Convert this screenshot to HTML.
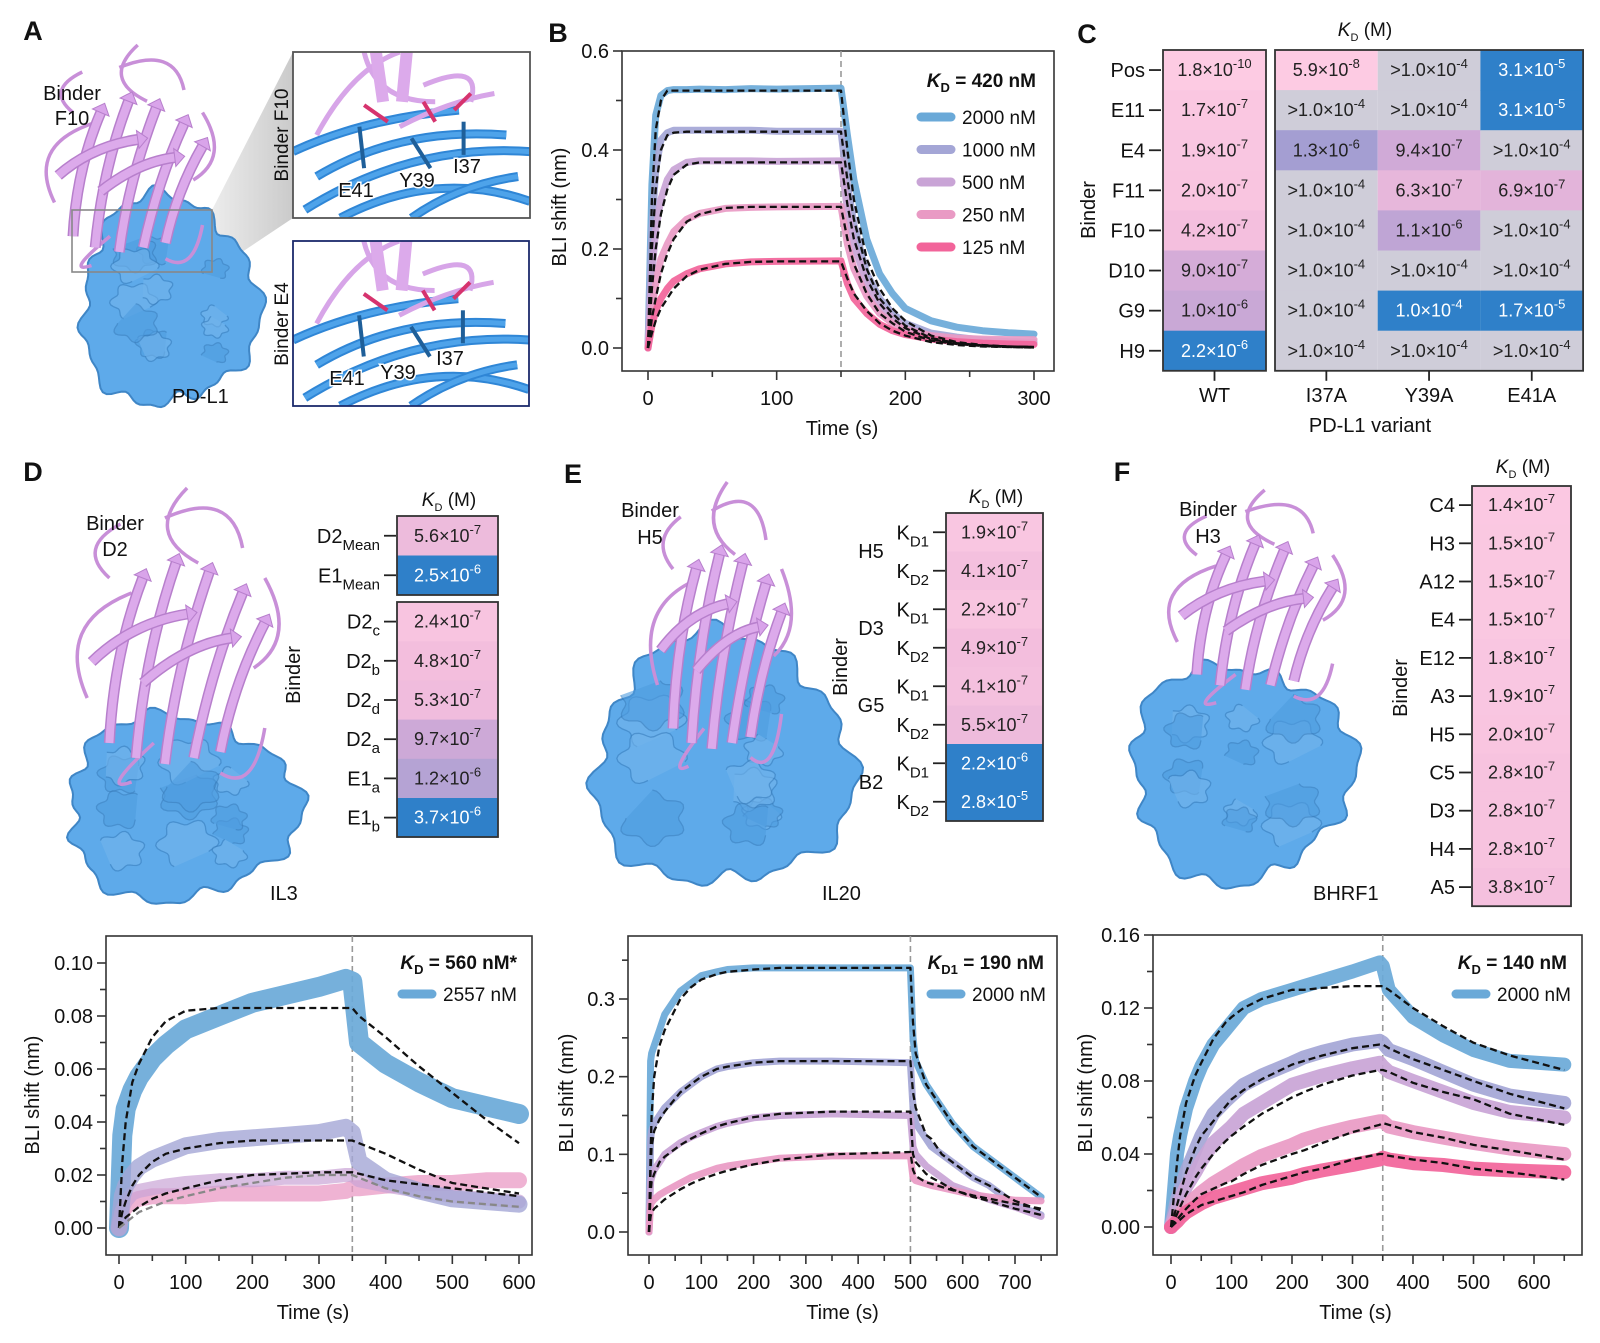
<!DOCTYPE html>
<html><head><meta charset="utf-8"><title>BLI binding figure</title>
<style>
html,body{margin:0;padding:0;background:#fff;}
svg{display:block;font-family:"Liberation Sans",Arial,sans-serif;}
</style></head>
<body>
<svg id="fig" width="1600" height="1343" viewBox="0 0 1600 1343" xmlns="http://www.w3.org/2000/svg">
<defs>
<linearGradient id="wedge" x1="0" x2="1" y1="0" y2="0"><stop offset="0" stop-color="#e6e6e6"/><stop offset="1" stop-color="#b9b9b9"/></linearGradient>
</defs>
</svg>
<script>
// ===== Panel B data (time in s, BLI shift in nm) =====
const B_time = [0,3,6,10,15,20,30,40,60,80,100,150,155,160,170,180,190,200,220,240,260,280,300];
const B_fit_2000 = [0,0.30,0.44,0.50,0.52,0.52,0.52,0.52,0.52,0.52,0.52,0.52,0.40,0.30,0.18,0.12,0.08,0.055,0.025,0.012,0.006,0.003,0.002];
const B_fit_1000 = [0,0.20,0.32,0.40,0.43,0.435,0.437,0.437,0.437,0.437,0.437,0.437,0.34,0.26,0.16,0.10,0.07,0.045,0.02,0.01,0.005,0.003,0.002];
const B_fit_500 = [0,0.12,0.20,0.27,0.32,0.35,0.37,0.375,0.375,0.375,0.375,0.375,0.29,0.22,0.14,0.09,0.06,0.04,0.018,0.009,0.005,0.003,0.002];
const B_fit_250 = [0,0.06,0.10,0.15,0.19,0.22,0.255,0.27,0.283,0.285,0.285,0.285,0.22,0.17,0.11,0.07,0.05,0.033,0.015,0.008,0.004,0.002,0.001];
const B_fit_125 = [0,0.03,0.055,0.08,0.10,0.12,0.145,0.158,0.17,0.174,0.175,0.175,0.14,0.11,0.075,0.05,0.035,0.025,0.012,0.006,0.003,0.002,0.001];
const B_obs_2000 = [0,0.33,0.47,0.51,0.52,0.522,0.522,0.523,0.522,0.524,0.523,0.525,0.43,0.34,0.22,0.15,0.11,0.08,0.055,0.042,0.035,0.031,0.028];
const B_obs_1000 = [0,0.24,0.36,0.42,0.435,0.44,0.44,0.44,0.44,0.44,0.438,0.438,0.33,0.25,0.15,0.10,0.07,0.05,0.03,0.022,0.016,0.013,0.012];
const B_obs_500 = [0,0.15,0.24,0.30,0.34,0.36,0.375,0.378,0.378,0.378,0.377,0.378,0.28,0.21,0.13,0.085,0.06,0.04,0.025,0.017,0.013,0.011,0.010];
const B_obs_250 = [0,0.08,0.13,0.18,0.21,0.235,0.26,0.272,0.282,0.284,0.285,0.286,0.21,0.16,0.105,0.07,0.05,0.037,0.025,0.02,0.018,0.017,0.017];
const B_obs_125 = [0,0.045,0.075,0.10,0.12,0.135,0.15,0.16,0.17,0.174,0.175,0.176,0.13,0.10,0.07,0.048,0.035,0.027,0.018,0.013,0.010,0.008,0.007];
const B_legend = ['2000 nM','1000 nM','500 nM','250 nM','125 nM'];

// ===== Panel D (IL3) =====
const D_time = [0,5,10,20,30,50,70,100,150,200,250,300,340,350,360,400,450,500,550,600];
const D_obs_blue = [0,0.035,0.045,0.052,0.057,0.064,0.069,0.075,0.080,0.085,0.088,0.091,0.094,0.093,0.070,0.062,0.055,0.049,0.046,0.043];
const D_fit_blue = [0,0.025,0.040,0.055,0.062,0.072,0.078,0.082,0.083,0.083,0.083,0.083,0.083,0.083,0.080,0.072,0.061,0.051,0.041,0.032];
const D_obs_lav = [0,0.012,0.016,0.020,0.023,0.026,0.028,0.031,0.033,0.034,0.035,0.036,0.038,0.036,0.025,0.018,0.014,0.011,0.010,0.009];
const D_fit_lav = [0,0.006,0.010,0.016,0.020,0.025,0.028,0.030,0.032,0.033,0.033,0.033,0.033,0.033,0.032,0.028,0.022,0.017,0.015,0.013];
const D_obs_pink = [0,0.006,0.008,0.010,0.011,0.012,0.012,0.012,0.013,0.013,0.013,0.013,0.014,0.015,0.015,0.016,0.017,0.017,0.018,0.018];
const D_obs_mauve = [0,0.007,0.010,0.013,0.014,0.015,0.016,0.017,0.018,0.018,0.019,0.019,0.020,0.020,0.018,0.016,0.014,0.012,0.011,0.010];
const D_fit_mauve = [0,0.002,0.004,0.006,0.008,0.011,0.013,0.015,0.018,0.020,0.0205,0.021,0.021,0.021,0.0205,0.018,0.0165,0.015,0.0135,0.012];
const D_fit_gray = [0,0.001,0.002,0.004,0.006,0.008,0.010,0.012,0.015,0.017,0.019,0.020,0.020,0.020,0.019,0.015,0.012,0.010,0.009,0.008];

// ===== Panel E (IL20) =====
const E_time = [0,3,5,10,20,30,60,80,100,130,150,200,250,350,500,505,510,530,540,560,580,620,650,700,750];
const E_obs_blue = [0,0.22,0.23,0.24,0.26,0.28,0.31,0.32,0.33,0.335,0.338,0.34,0.34,0.34,0.34,0.25,0.22,0.19,0.18,0.16,0.14,0.11,0.095,0.07,0.045];
const E_fit_blue = [0,0.10,0.15,0.20,0.24,0.26,0.30,0.315,0.325,0.332,0.335,0.338,0.34,0.34,0.34,0.27,0.23,0.19,0.18,0.16,0.14,0.11,0.095,0.07,0.045];
const E_obs_lav = [0,0.12,0.13,0.14,0.15,0.16,0.18,0.19,0.20,0.21,0.213,0.218,0.22,0.22,0.218,0.16,0.14,0.12,0.11,0.10,0.09,0.07,0.06,0.035,0.022];
const E_fit_lav = [0,0.08,0.11,0.13,0.145,0.155,0.18,0.19,0.20,0.21,0.213,0.218,0.22,0.22,0.22,0.18,0.16,0.125,0.12,0.10,0.09,0.07,0.06,0.04,0.028];
const E_obs_mauve = [0,0.065,0.07,0.08,0.09,0.10,0.115,0.122,0.128,0.136,0.14,0.147,0.15,0.152,0.15,0.11,0.10,0.085,0.08,0.07,0.06,0.05,0.042,0.032,0.02];
const E_fit_mauve = [0,0.05,0.065,0.075,0.09,0.097,0.112,0.12,0.127,0.136,0.14,0.148,0.152,0.155,0.155,0.10,0.09,0.075,0.07,0.063,0.055,0.045,0.04,0.03,0.022];
const E_obs_pink = [0,0.035,0.038,0.042,0.048,0.052,0.063,0.07,0.075,0.082,0.085,0.09,0.095,0.098,0.098,0.07,0.066,0.062,0.06,0.057,0.054,0.048,0.045,0.041,0.04];
const E_fit_pink = [0,0.02,0.025,0.03,0.036,0.042,0.055,0.062,0.068,0.075,0.079,0.087,0.093,0.1,0.103,0.08,0.072,0.064,0.062,0.058,0.054,0.047,0.043,0.036,0.03];

// ===== Panel F (BHRF1) =====
const F_time = [0,10,15,25,40,50,70,90,100,120,150,200,220,250,300,345,350,360,400,450,500,560,650];
const F_obs_blue = [0,0.04,0.05,0.065,0.08,0.088,0.10,0.108,0.112,0.12,0.125,0.13,0.132,0.135,0.14,0.145,0.143,0.13,0.115,0.105,0.097,0.091,0.089];
const F_fit_blue = [0,0.035,0.05,0.068,0.083,0.09,0.103,0.112,0.115,0.12,0.125,0.13,0.13,0.131,0.132,0.132,0.132,0.13,0.12,0.11,0.101,0.094,0.086];
const F_obs_lav = [0,0.015,0.02,0.03,0.042,0.05,0.062,0.069,0.072,0.078,0.083,0.09,0.093,0.096,0.1,0.102,0.101,0.097,0.092,0.085,0.078,0.072,0.068];
const F_fit_lav = [0,0.012,0.018,0.03,0.043,0.05,0.058,0.066,0.07,0.075,0.081,0.089,0.091,0.094,0.098,0.1,0.1,0.098,0.092,0.086,0.08,0.073,0.065];
const F_obs_mauve = [0,0.01,0.015,0.022,0.03,0.036,0.046,0.052,0.055,0.062,0.068,0.078,0.08,0.083,0.087,0.09,0.088,0.085,0.08,0.074,0.068,0.063,0.06];
const F_fit_mauve = [0,0.007,0.011,0.018,0.027,0.032,0.04,0.047,0.05,0.055,0.062,0.071,0.074,0.078,0.083,0.086,0.086,0.085,0.079,0.074,0.07,0.062,0.056];
const F_obs_pink = [0,0.005,0.007,0.011,0.016,0.019,0.024,0.028,0.03,0.034,0.039,0.045,0.048,0.051,0.055,0.058,0.058,0.055,0.052,0.049,0.046,0.043,0.04];
const F_fit_pink = [0,0.004,0.006,0.01,0.015,0.018,0.021,0.024,0.025,0.029,0.034,0.04,0.042,0.046,0.052,0.056,0.057,0.056,0.052,0.049,0.045,0.042,0.037];
const F_obs_hot = [0,0.003,0.005,0.008,0.011,0.013,0.016,0.018,0.019,0.021,0.024,0.027,0.029,0.031,0.034,0.037,0.038,0.037,0.035,0.034,0.032,0.031,0.03];
const F_fit_hot = [0,0.003,0.004,0.007,0.01,0.012,0.014,0.016,0.017,0.019,0.023,0.028,0.03,0.032,0.037,0.04,0.04,0.039,0.037,0.035,0.032,0.03,0.026];

// ===== Heatmap data =====
const C_rows = ['Pos','E11','E4','F11','F10','D10','G9','H9'];
const C_cols = ['WT','I37A','Y39A','E41A'];
const C_WT = ['1.8e-10','1.7e-7','1.9e-7','2.0e-7','4.2e-7','9.0e-7','1.0e-6','2.2e-6'];
const C_I37A = ['5.9e-8','>1.0e-4','1.3e-6','>1.0e-4','>1.0e-4','>1.0e-4','>1.0e-4','>1.0e-4'];
const C_Y39A = ['>1.0e-4','>1.0e-4','9.4e-7','6.3e-7','1.1e-6','>1.0e-4','1.0e-4','>1.0e-4'];
const C_E41A = ['3.1e-5','3.1e-5','>1.0e-4','6.9e-7','>1.0e-4','>1.0e-4','1.7e-5','>1.0e-4'];
const D_mean_rows = [['D2','Mean'],['E1','Mean']];
const D_mean_vals = ['5.6e-7','2.5e-6'];
const D_rows = [['D2','c'],['D2','b'],['D2','d'],['D2','a'],['E1','a'],['E1','b']];
const D_vals = ['2.4e-7','4.8e-7','5.3e-7','9.7e-7','1.2e-6','3.7e-6'];
const E_groups = ['H5','D3','G5','B2'];
const E_rows = [['K','D1'],['K','D2'],['K','D1'],['K','D2'],['K','D1'],['K','D2'],['K','D1'],['K','D2']];
const E_vals = ['1.9e-7','4.1e-7','2.2e-7','4.9e-7','4.1e-7','5.5e-7','2.2e-6','2.8e-5'];
const F_rows = ['C4','H3','A12','E4','E12','A3','H5','C5','D3','H4','A5'];
const F_vals = ['1.4e-7','1.5e-7','1.5e-7','1.5e-7','1.8e-7','1.9e-7','2.0e-7','2.8e-7','2.8e-7','2.8e-7','3.8e-7'];

// ===== helpers =====
const NS='http://www.w3.org/2000/svg';
const svg=document.getElementById('fig');
function mk(tag,attrs,parent){const e=document.createElementNS(NS,tag);for(const k in attrs)e.setAttribute(k,attrs[k]);(parent||svg).appendChild(e);return e;}
function txt(x,y,s,o,parent){o=o||{};const t=mk('text',Object.assign({x:x,y:y,'font-size':o.fs||20,fill:o.fill||'#111','text-anchor':o.anchor||'start'},o.extra||{}),parent);t.textContent=s;return t;}
function grp(){return mk('g',{});}
function lin(a0,a1,p0,p1){return v=>p0+(v-a0)*(p1-p0)/(a1-a0);}

const COL={blue:'#6aa9d8',lav:'#a4a6d6',mauve:'#c9a4d6',pink:'#e99ac4',hot:'#f2649a'};

function letter(x,y,s){const t=txt(x,y,s,{fs:27,anchor:'middle',extra:{'font-weight':'bold'}});}

// ===== Chart builder =====
function chart(cfg){
  const g=grp();
  
  
  const sx=lin(cfg.t0,cfg.t1,cfg.px0,cfg.px1), sy=lin(cfg.v0,cfg.v1,cfg.py0,cfg.py1);
  const fr=mk('rect',{x:cfg.fl,y:cfg.ft,width:cfg.fr-cfg.fl,height:cfg.fb-cfg.ft,fill:'none',stroke:'#333','stroke-width':1.6},g);
  
  
  const dl=mk('line',{x1:sx(cfg.tsw),x2:sx(cfg.tsw),y1:cfg.ft,y2:cfg.fb,stroke:'#999','stroke-width':1.6,'stroke-dasharray':'6,4'},g);
  
  
  for(let t=cfg.t0;t<=cfg.xmax+1e-9;t+=cfg.xminor){
    const major=Math.abs(t/cfg.xmajor-Math.round(t/cfg.xmajor))<1e-6;
    const tk=mk('line',{x1:sx(t),x2:sx(t),y1:cfg.fb,y2:cfg.fb+(major?9:6),stroke:'#333','stroke-width':1.6},g);
    
    
    if(major){const l=txt(sx(t),cfg.fb+34,String(Math.round(t)),{fs:20,anchor:'middle'},g);
      
      }
  }
  for(let i=0;;i++){
    const v=cfg.v0+i*cfg.yminor; if(v>cfg.ymax+1e-9)break;
    const major=Math.abs(v/cfg.ymajor-Math.round(v/cfg.ymajor))<1e-6;
    const tk=mk('line',{x1:cfg.fl-(major?9:6),x2:cfg.fl,y1:sy(v),y2:sy(v),stroke:'#333','stroke-width':1.6},g);
    
    
    if(major){const l=txt(cfg.fl-13,sy(v)+7,v.toFixed(cfg.ydec),{fs:20,anchor:'end'},g);
      
      }
  }
  const xt=txt((cfg.fl+cfg.fr)/2+cfg.xtOff,cfg.fb+64,'Time (s)',{fs:20,anchor:'middle'},g);
  
  
  const yt=txt(0,0,'BLI shift (nm)',{fs:20,anchor:'middle',extra:{transform:`translate(${cfg.ytx},${cfg.yty}) rotate(-90)`}},g);
  
  
  const clip='clip-'+cfg.name;
  const cp=mk('clipPath',{id:clip},g); mk('rect',{x:cfg.fl,y:cfg.ft,width:cfg.fr-cfg.fl,height:cfg.fb-cfg.ft},cp);
  const sg=mk('g',{'clip-path':`url(#${clip})`},g);
  cfg.obs.forEach(s=>{
    const p=mk('polyline',{points:cfg.time.map((t,i)=>sx(t).toFixed(1)+','+sy(s.v[i]).toFixed(1)).join(' '),fill:'none',stroke:s.c,'stroke-width':s.w,'stroke-linejoin':'round','stroke-linecap':'round',opacity:s.o||0.92},sg);
    
    
  });
  cfg.fit.forEach(s=>{
    const p=mk('polyline',{points:cfg.time.map((t,i)=>sx(t).toFixed(1)+','+sy(s.v[i]).toFixed(1)).join(' '),fill:'none',stroke:s.c||'#111','stroke-width':2.3,'stroke-dasharray':'7,4','stroke-linejoin':'round'},sg);
    
    
  });
  return g;
}
function kdLabel(xr,y,sub,val,parent){
  const t=mk('text',{x:xr,y:y,'font-size':19,'text-anchor':'end','font-weight':'bold',fill:'#111'},parent);
  const a=mk('tspan',{'font-style':'italic'},t);a.textContent='K';
  const b=mk('tspan',{'font-size':13,dy:5},t);b.textContent=sub;
  const c=mk('tspan',{dy:-5},t);c.textContent=' = '+val;
  
  
}
function legendEntry(x,y,col,label,parent){
  const l=mk('line',{x1:x,x2:x+30,y1:y,y2:y,stroke:col,'stroke-width':9,'stroke-linecap':'round'},parent);
  
  
  const t=txt(x+41,y+7,label,{fs:19},parent);
  
  
}

// ===== Heatmap helpers =====
const stops=[[-7.0,[253,203,227]],[-6.3,[243,190,221]],[-6.05,[214,172,216]],[-5.9,[176,161,211]],[-5.75,[47,128,201]]];
function heatColor(s){
  if(s[0]==='>')return '#cfcdd9';
  const lv=Math.log10(parseFloat(s));
  if(lv<=stops[0][0])return 'rgb('+stops[0][1].join(',')+')';
  for(let i=1;i<stops.length;i++){ if(lv<=stops[i][0]){const f=(lv-stops[i-1][0])/(stops[i][0]-stops[i-1][0]);const c=stops[i-1][1].map((a,k)=>Math.round(a+(stops[i][1][k]-a)*f));return 'rgb('+c.join(',')+')';}}
  return 'rgb('+stops[stops.length-1][1].join(',')+')';
}
function cellText(cx,cy,s,parent){
  const gt=s[0]==='>'; const body=gt?s.slice(1):s; const [m,e]=body.split('e');
  const white=!gt&&Math.log10(parseFloat(s))>-5.8;
  const t=mk('text',{x:cx,y:cy+6,'font-size':18,'text-anchor':'middle',fill:white?'#fff':'#222'},parent);
  const a=mk('tspan',{},t);a.textContent=(gt?'>':'')+m+'×10';
  const b=mk('tspan',{'font-size':13,dy:-8},t);b.textContent=e;
  
  
}
function heatColumn(x,y,w,h,vals,name,parent){
  vals.forEach((v,i)=>{
    const r=mk('rect',{x:x,y:y+i*h,width:w,height:h+0.5,fill:heatColor(v)},parent);
    
    
    cellText(x+w/2,y+i*h+h/2,v,parent);
  });
}
function box(x,y,w,h,parent,name){const r=mk('rect',{x:x,y:y,width:w,height:h,fill:'none',stroke:'#333','stroke-width':1.8},parent);}
function rowLabel(xr,cy,main,sub,parent){
  const tk=mk('line',{x1:xr+4,x2:xr+16,y1:cy,y2:cy,stroke:'#222','stroke-width':1.8},parent);
  
  
  const t=mk('text',{x:xr,y:cy+7,'font-size':20,'text-anchor':'end',fill:'#111'},parent);
  const a=mk('tspan',{},t);a.textContent=main;
  if(sub){const b=mk('tspan',{'font-size':15,dy:7},t);b.textContent=sub;}
  
  
}
function kdTitle(cx,y,parent){
  const t=mk('text',{x:cx,y:y,'font-size':19,'text-anchor':'middle',fill:'#111'},parent);
  const a=mk('tspan',{'font-style':'italic'},t);a.textContent='K';
  const b=mk('tspan',{'font-size':11,dy:5},t);b.textContent='D';
  const c=mk('tspan',{dy:-5},t);c.textContent=' (M)';
  
  
}
function vlabel(x,y,s,parent,fs){const t=txt(0,0,s,{fs:fs||20,anchor:'middle',extra:{transform:`translate(${x},${y}) rotate(-90)`}},parent);return t;}

// ===== Structure drawing =====
function blob(cx,cy,rx,ry,seed,parent){
  let d='';
  for(let i=0;i<=160;i++){const a=i/160*Math.PI*2;
    const r=1+0.045*Math.sin(11*a+seed)+0.03*Math.sin(19*a+seed*2)+0.07*Math.sin(3*a+seed*0.7);
    d+=(i?'L':'M')+(cx+rx*r*Math.cos(a)).toFixed(1)+','+(cy+ry*r*Math.sin(a)).toFixed(1);}
  const p=mk('path',{d:d+'Z',fill:'#5eaaea',stroke:'#3f86c6','stroke-width':2},parent);
  
  
  for(let k=0;k<12;k++){let dd='';const cx2=cx+rx*0.55*Math.sin(k*2.1+seed),cy2=cy+ry*0.5*Math.cos(k*1.7+seed),rr=rx*(0.14+0.05*(k%3));
    for(let i=0;i<=40;i++){const a=i/40*Math.PI*1.5+k;const r=1+0.15*Math.sin(6*a+k);dd+=(i?'L':'M')+(cx2+rr*r*Math.cos(a)).toFixed(1)+','+(cy2+rr*0.8*r*Math.sin(a)).toFixed(1);}
    const q=mk('path',{d:dd,fill:k%2?'#4f9de0':'#72b4ec',stroke:'#3a7fbe','stroke-width':1.3,opacity:0.6},parent);
    
    }
}
function ribbons(x,y,w,h,parent){
  const g=mk('g',{},parent);
  
  
  const X=a=>x+a*w, Y=b=>y+b*h;
  const loops=[[0.55,0,0.35,0.15,0.6,0.25],[0.1,0.7,-0.05,0.45,0.3,0.35],[0.9,0.3,1.05,0.5,0.85,0.6],[0.3,0.98,0.15,1.02,0.4,0.85],[0.7,0.95,0.85,1.02,0.9,0.8],[0.45,0.1,0.75,0.0,0.8,0.2],[0.2,0.3,0.05,0.2,0.25,0.12]];
  loops.forEach(l=>mk('path',{d:`M${X(l[0])},${Y(l[1])} Q${X(l[2])},${Y(l[3])} ${X(l[4])},${Y(l[5])}`,fill:'none',stroke:'#c88fd8','stroke-width':3.5},g));
  const sheets=[[0.2,0.85,0.22,0.55,0.35,0.3],[0.32,0.9,0.36,0.55,0.5,0.25],[0.45,0.92,0.5,0.6,0.65,0.28],[0.58,0.9,0.66,0.6,0.8,0.35],[0.7,0.88,0.76,0.65,0.9,0.45],[0.12,0.58,0.3,0.45,0.55,0.42],[0.35,0.65,0.55,0.52,0.75,0.5]];
  sheets.forEach(s=>{
    const d=`M${X(s[0])},${Y(s[1])} Q${X(s[2])},${Y(s[3])} ${X(s[4])},${Y(s[5])}`;
    mk('path',{d:d,fill:'none',stroke:'#b77fcc','stroke-width':11},g);
    mk('path',{d:d,fill:'none',stroke:'#dcaaeb','stroke-width':8},g);
    const dx=X(s[4])-X(s[2]),dy=Y(s[5])-Y(s[3]),L=Math.hypot(dx,dy)||1,ux=dx/L,uy=dy/L;
    const tx=X(s[4])+ux*10,ty=Y(s[5])+uy*10;
    mk('polygon',{points:`${tx},${ty} ${X(s[4])-uy*9},${Y(s[5])+ux*9} ${X(s[4])+uy*9},${Y(s[5])-ux*9}`,fill:'#d9a4ea',stroke:'#b77fcc','stroke-width':1},g);
  });
}
function insetContent(x,y,w,h,parent){
  const g=mk('g',{},parent);
  
  
  const P=(a,b)=>(x+a*w).toFixed(1)+','+(y+b*h).toFixed(1);
  [[0.05,0.95,0.5,0.55,1,0.6],[0.1,0.75,0.45,0.45,0.9,0.5],[0.0,0.6,0.3,0.4,0.7,0.35],[0.2,1.0,0.6,0.7,1,0.9],[0.5,1,0.7,0.8,0.95,0.75]].forEach(s=>{
    mk('path',{d:`M${P(s[0],s[1])} Q${P(s[2],s[3])} ${P(s[4],s[5])}`,fill:'none',stroke:'#2f86d6','stroke-width':9},g);
    mk('path',{d:`M${P(s[0],s[1])} Q${P(s[2],s[3])} ${P(s[4],s[5])}`,fill:'none',stroke:'#4ea3ea','stroke-width':5},g);});
  [[0.1,0.5,0.25,0.1,0.45,0.0],[0.3,0.0,0.35,0.3,0.6,0.3],[0.55,0.2,0.8,0.05,0.75,0.3],[0.45,0.45,0.65,0.3,0.85,0.25]].forEach(s=>{
    mk('path',{d:`M${P(s[0],s[1])} Q${P(s[2],s[3])} ${P(s[4],s[5])}`,fill:'none',stroke:'#d7a5e8','stroke-width':5},g);});
  mk('path',{d:`M${P(0.35,0)} L${P(0.38,0.3)} M${P(0.48,0)} L${P(0.46,0.3)}`,stroke:'#dcaaeb','stroke-width':12},g);
  [[0.3,0.32,0.4,0.42],[0.55,0.3,0.6,0.42],[0.68,0.35,0.75,0.25]].forEach(s=>mk('path',{d:`M${P(s[0],s[1])} L${P(s[2],s[3])}`,stroke:'#d6336e','stroke-width':4},g));
  [[0.28,0.45,0.3,0.7],[0.5,0.52,0.58,0.7],[0.72,0.42,0.72,0.62]].forEach(s=>mk('path',{d:`M${P(s[0],s[1])} L${P(s[2],s[3])}`,stroke:'#1f5f99','stroke-width':4},g));
}

// ================= PANEL A =================
letter(33,40,'A');
{
  const g=grp();  
  mk('polygon',{points:'212,210 293,52 293,218 212,272',fill:'url(#wedge)',opacity:0.75},g);
  blob(168,302,88,104,1.3,g);
  ribbons(36,45,185,225,g);
  const gb=mk('rect',{x:72,y:210,width:140,height:62,fill:'none',stroke:'#888','stroke-width':1.6},g);
   
  const t1=txt(72,100,'Binder',{fs:20,anchor:'middle'},g);  
  const t2=txt(72,125,'F10',{fs:20,anchor:'middle'},g);  
  const t3=txt(172,403,'PD-L1',{fs:20},g);  
  const i1=mk('svg',{x:293,y:52,width:237,height:166,viewBox:'0 0 237 166'},g); mk('rect',{width:237,height:166,fill:'#fff'},i1); insetContent(0,0,237,166,i1);
  const i2=mk('svg',{x:293,y:241,width:236,height:165,viewBox:'0 0 236 165'},g); mk('rect',{width:236,height:165,fill:'#fff'},i2); insetContent(0,0,236,165,i2);
  const b1=mk('rect',{x:293,y:52,width:237,height:166,fill:'none',stroke:'#555','stroke-width':1.8},g);  
  const b2=mk('rect',{x:293,y:241,width:236,height:165,fill:'none',stroke:'#1b2a6b','stroke-width':1.8},g);  
  vlabel(288,135,'Binder F10',g,19);
  vlabel(288,324,'Binder E4',g,19);
  [['E41',356,197],['Y39',417,187],['I37',467,173],['E41',347,385],['Y39',398,379],['I37',450,365]].forEach(r=>{const t=txt(r[1],r[2],r[0],{fs:20,anchor:'middle',extra:{stroke:'#fff','stroke-width':3,'paint-order':'stroke'}},g);});
}

// ================= PANEL B =================
letter(558,42,'B');
{
  const g=chart({name:'panel-b-chart',time:B_time,t0:0,t1:300,px0:648,px1:1034,v0:0,v1:0.6,py0:348,py1:51,fl:622,fr:1054,ft:51,fb:371,tsw:150,xmax:300,xmajor:100,xminor:50,ymax:0.6,ymajor:0.2,yminor:0.1,ydec:1,ytx:566,yty:207,xtOff:4,
    obs:[{n:'2000nM',v:B_obs_2000,c:COL.blue,w:7},{n:'1000nM',v:B_obs_1000,c:COL.lav,w:7},{n:'500nM',v:B_obs_500,c:COL.mauve,w:7},{n:'250nM',v:B_obs_250,c:COL.pink,w:7},{n:'125nM',v:B_obs_125,c:COL.hot,w:7}],
    fit:[{n:'2000nM',v:B_fit_2000},{n:'1000nM',v:B_fit_1000},{n:'500nM',v:B_fit_500},{n:'250nM',v:B_fit_250},{n:'125nM',v:B_fit_125}]});
  kdLabel(1036,87,'D','420 nM',g);
  const cols=[COL.blue,COL.lav,COL.mauve,COL.pink,COL.hot];
  B_legend.forEach((l,i)=>legendEntry(921,117+i*32.5,cols[i],l,g));
}

// ================= PANEL C =================
letter(1087,43,'C');
{
  const g=grp();  
  const top=50,rh=40.1,cw=102.7;
  heatColumn(1163,top,103,rh,C_WT,'wt',g);
  heatColumn(1275,top,cw,rh,C_I37A,'i37a',g);
  heatColumn(1275+cw,top,cw,rh,C_Y39A,'y39a',g);
  heatColumn(1275+2*cw,top,cw,rh,C_E41A,'e41a',g);
  box(1163,top,103,rh*8,g,'wt-block-frame');
  box(1275,top,cw*3,rh*8,g,'mutant-block-frame');
  C_rows.forEach((r,i)=>rowLabel(1145,top+rh*i+rh/2,r,null,g));
  const xs=[1214.5,1275+cw/2,1275+cw*1.5,1275+cw*2.5];
  C_cols.forEach((c,i)=>{const tk=mk('line',{x1:xs[i],x2:xs[i],y1:top+rh*8,y2:top+rh*8+10,stroke:'#222','stroke-width':1.8},g);
    const t=txt(xs[i],402,c,{fs:20,anchor:'middle'},g);});
  const xt=txt(1370,432,'PD-L1 variant',{fs:20,anchor:'middle'},g);  
  vlabel(1095,210,'Binder',g);
  kdTitle(1365,36,g);
}

// ================= PANEL D =================
letter(33,481,'D');
{
  const g=grp();  
  blob(180,808,115,92,2.2,g);
  ribbons(65,488,222,300,g);
  const t1=txt(115,530,'Binder',{fs:20,anchor:'middle'},g);  
  const t2=txt(115,556,'D2',{fs:20,anchor:'middle'},g);  
  const t3=txt(270,900,'IL3',{fs:20},g);  
  const h=grp();  
  heatColumn(397,516,101,39.5,D_mean_vals,'mean',h);
  box(397,516,101,79,h,'mean-block-frame');
  heatColumn(397,602,101,39.2,D_vals,'replicate',h);
  box(397,602,101,235,h,'replicate-block-frame');
  D_mean_rows.forEach((r,i)=>rowLabel(380,516+39.5*i+19.75,r[0],r[1],h));
  D_rows.forEach((r,i)=>rowLabel(380,602+39.2*i+19.6,r[0],r[1],h));
  kdTitle(449,506,h);
  vlabel(300,675,'Binder',h);
}
chart({name:'panel-d-chart',time:D_time,t0:0,t1:600,px0:119,px1:519,v0:0,v1:0.1,py0:1228,py1:963,fl:106,fr:532,ft:936,fb:1255,tsw:350,xmax:600,xmajor:100,xminor:50,ymax:0.105,ymajor:0.02,yminor:0.01,ydec:2,ytx:39,yty:1095,xtOff:-6,
  obs:[{n:'2557nM',v:D_obs_blue,c:COL.blue,w:20},{n:'pink',v:D_obs_pink,c:COL.pink,w:16,o:0.75},{n:'mauve',v:D_obs_mauve,c:COL.mauve,w:14,o:0.7},{n:'lavender',v:D_obs_lav,c:COL.lav,w:17,o:0.8}],
  fit:[{n:'blue',v:D_fit_blue},{n:'lavender',v:D_fit_lav},{n:'mauve',v:D_fit_mauve},{n:'gray',v:D_fit_gray,c:'#888'}]});
{
  const g=grp();  
  kdLabel(517,969,'D','560 nM*',g);
  legendEntry(402,994,COL.blue,'2557 nM',g);
}

// ================= PANEL E =================
letter(573,483,'E');
{
  const g=grp();  
  blob(722,762,128,125,0.6,g);
  ribbons(642,482,155,290,g);
  const t1=txt(650,517,'Binder',{fs:20,anchor:'middle'},g);  
  const t2=txt(650,544,'H5',{fs:20,anchor:'middle'},g);  
  const t3=txt(822,900,'IL20',{fs:20},g);  
  const h=grp();  
  heatColumn(946,513,97,38.5,E_vals,'kd',h);
  box(946,513,97,308,h,'heatmap-frame');
  E_rows.forEach((r,i)=>rowLabel(929,513+38.5*i+19.25,r[0],r[1],h));
  E_groups.forEach((s,i)=>{const t=txt(871,513+77*i+45,s,{fs:20,anchor:'middle'},h);});
  kdTitle(996,503,h);
  vlabel(847,667,'Binder',h);
}
chart({name:'panel-e-chart',time:E_time,t0:0,t1:700,px0:649,px1:1015,v0:0,v1:0.3,py0:1232,py1:999,fl:628,fr:1057,ft:936,fb:1255,tsw:500,xmax:750,xmajor:100,xminor:50,ymax:0.35,ymajor:0.1,yminor:0.05,ydec:1,ytx:573,yty:1093,xtOff:0,
  obs:[{n:'2000nM',v:E_obs_blue,c:COL.blue,w:7},{n:'1000nM',v:E_obs_lav,c:COL.lav,w:7},{n:'500nM',v:E_obs_mauve,c:COL.mauve,w:7},{n:'250nM',v:E_obs_pink,c:COL.pink,w:7}],
  fit:[{n:'2000nM',v:E_fit_blue},{n:'1000nM',v:E_fit_lav},{n:'500nM',v:E_fit_mauve},{n:'250nM',v:E_fit_pink}]});
{
  const g=grp();  
  kdLabel(1044,969,'D1','190 nM',g);
  legendEntry(931,994,COL.blue,'2000 nM',g);
}

// ================= PANEL F =================
letter(1122,481,'F');
{
  const g=grp();  
  blob(1240,772,110,108,3.1,g);
  ribbons(1158,490,194,217,g);
  const t1=txt(1208,516,'Binder',{fs:20,anchor:'middle'},g);  
  const t2=txt(1208,543,'H3',{fs:20,anchor:'middle'},g);  
  const t3=txt(1313,900,'BHRF1',{fs:20},g);  
  const h=grp();  
  heatColumn(1472,486,99,38.2,F_vals,'kd',h);
  box(1472,486,99,38.2*11,h,'heatmap-frame');
  F_rows.forEach((r,i)=>rowLabel(1455,486+38.2*i+19.1,r,null,h));
  kdTitle(1523,473,h);
  vlabel(1407,688,'Binder',h);
}
chart({name:'panel-f-chart',time:F_time,t0:0,t1:600,px0:1171,px1:1534,v0:0,v1:0.16,py0:1227,py1:935,fl:1153,fr:1582,ft:935,fb:1255,tsw:350,xmax:650,xmajor:100,xminor:50,ymax:0.161,ymajor:0.04,yminor:0.02,ydec:2,ytx:1092,yty:1093,xtOff:-12,
  obs:[{n:'2000nM',v:F_obs_blue,c:COL.blue,w:14},{n:'1000nM',v:F_obs_lav,c:COL.lav,w:14},{n:'500nM',v:F_obs_mauve,c:COL.mauve,w:14},{n:'250nM',v:F_obs_pink,c:COL.pink,w:14},{n:'125nM',v:F_obs_hot,c:COL.hot,w:14}],
  fit:[{n:'2000nM',v:F_fit_blue},{n:'1000nM',v:F_fit_lav},{n:'500nM',v:F_fit_mauve},{n:'250nM',v:F_fit_pink},{n:'125nM',v:F_fit_hot}]});
{
  const g=grp();  
  kdLabel(1567,969,'D','140 nM',g);
  legendEntry(1456,994,COL.blue,'2000 nM',g);
}
</script>
</body></html>
